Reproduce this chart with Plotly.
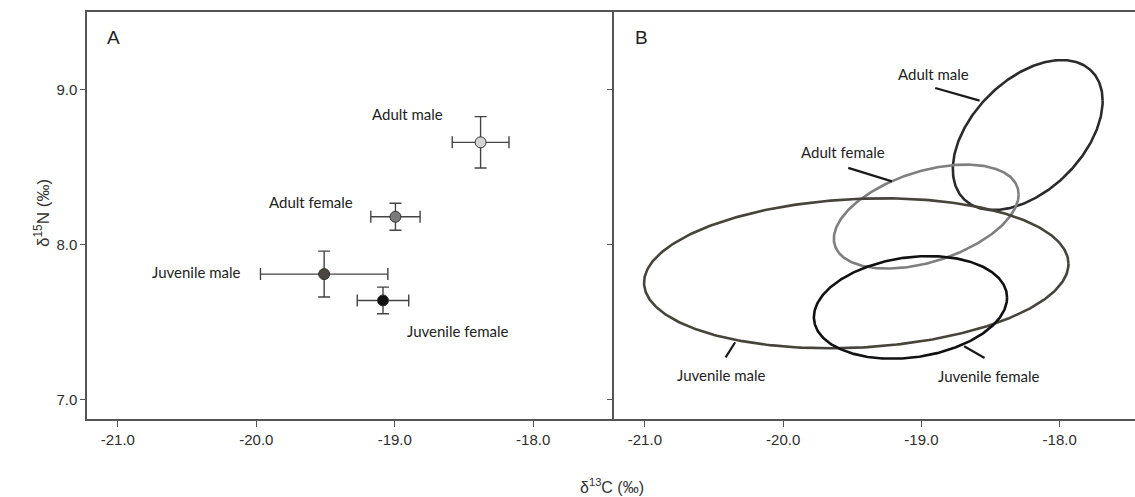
import numpy as np
import plotly.graph_objects as go

# ---------------- data ----------------
groups = ["Adult male", "Adult female", "Juvenile male", "Juvenile female"]
mean_c13 = [-18.38, -18.995, -19.51, -19.085]
mean_n15 = [8.66, 8.18, 7.81, 7.64]
sd_c13 = [0.205, 0.178, 0.46, 0.186]
sd_n15 = [0.166, 0.087, 0.148, 0.086]
marker_colors = ["#d4d4d4", "#7a7a7a", "#4a4740", "#111111"]

# standard ellipse parameters (panel B)
ell_cx = [-18.231, -18.965, -19.471, -19.079]
ell_cy = [8.707, 8.181, 7.815, 7.595]
ell_sx = [0.542, 0.6683, 1.535, 0.6987]
ell_sy = [0.484, 0.3355, 0.484, 0.331]
ell_rho = [0.455, 0.426, 0.1255, 0.19]
ell_colors = ["#2b2b2b", "#7f7f7f", "#47443c", "#111111"]

# label positions (data units)
lblA_x = [-18.909, -19.603, -20.432, -18.546]
lblA_y = [8.845, 8.275, 7.821, 7.441]
lblB_x = [-18.912, -19.565, -20.447, -18.517]
lblB_y = [9.103, 8.595, 7.157, 7.150]
leader_x0 = [-18.900, -19.529, -20.416, -18.691]
leader_y0 = [9.011, 8.495, 7.273, 7.344]
leader_x1 = [-18.579, -19.213, -20.347, -18.543]
leader_y1 = [8.929, 8.408, 7.370, 7.269]

xticks = [-21, -20, -19, -18]
xticklabels = ["-21.0", "-20.0", "-19.0", "-18.0"]
yticks = [7, 8, 9]
yticklabels = ["7.0", "8.0", "9.0"]

AX = "#555555"
TICKFONT = dict(family="Arial", size=15, color="#2e2e2e")
LBLFONT = dict(family="Lato", size=15, color="#222222")

fig = go.Figure()

# Panel A: means with SD error bars
for i, g in enumerate(groups):
    fig.add_trace(go.Scatter(
        x=[mean_c13[i]], y=[mean_n15[i]], mode="markers",
        marker=dict(size=11, color=marker_colors[i], line=dict(color="#333333", width=1)),
        error_x=dict(type="data", array=[sd_c13[i]], color="#444444", thickness=1.4, width=6),
        error_y=dict(type="data", array=[sd_n15[i]], color="#444444", thickness=1.4, width=6),
        xaxis="x", yaxis="y", showlegend=False, name=g))

# Panel B: ellipses
t = np.linspace(0, 2 * np.pi, 361)
for i, g in enumerate(groups):
    sx, sy, r = ell_sx[i], ell_sy[i], ell_rho[i]
    ex = ell_cx[i] + sx * np.cos(t)
    ey = ell_cy[i] + sy * (r * np.cos(t) + np.sqrt(1 - r * r) * np.sin(t))
    fig.add_trace(go.Scatter(
        x=ex, y=ey, mode="lines",
        line=dict(color=ell_colors[i], width=2.6),
        xaxis="x2", yaxis="y2", showlegend=False, name=g, hoverinfo="skip"))

annotations = []
shapes = []
for i, g in enumerate(groups):
    annotations.append(dict(x=lblA_x[i], y=lblA_y[i], xref="x", yref="y", text=g,
                            showarrow=False, font=LBLFONT))
    annotations.append(dict(x=lblB_x[i], y=lblB_y[i], xref="x2", yref="y2", text=g,
                            showarrow=False, font=LBLFONT))
    shapes.append(dict(type="line", xref="x2", yref="y2",
                       x0=leader_x0[i], y0=leader_y0[i], x1=leader_x1[i], y1=leader_y1[i],
                       line=dict(color="#1a1a1a", width=2.2)))

annotations.append(dict(x=-21.029, y=9.334, xref="x", yref="y", text="A", showarrow=False,
                        font=dict(family="Arial", size=19, color="#222")))
annotations.append(dict(x=-21.025, y=9.338, xref="x2", yref="y2", text="B", showarrow=False,
                        font=dict(family="Arial", size=19, color="#222")))
annotations.append(dict(x=0.501, y=-0.165, xref="paper", yref="paper", yanchor="middle",
                        text="δ<sup>13</sup>C (‰)", showarrow=False,
                        font=dict(family="Arial", size=16, color="#333")))
annotations.append(dict(x=-0.056, y=0.507, xref="paper", yref="paper", textangle=-90,
                        text="δ<sup>15</sup>N (‰)", showarrow=False,
                        font=dict(family="Arial", size=17, color="#333")))

xrange = [-21.223, -17.42]
xrange2 = [-21.227, -17.455]
yrange = [6.875, 9.501]
split = 526.5 / 1048

common_x = dict(showgrid=False, zeroline=False, showline=True, linecolor=AX, linewidth=1.5,
                ticks="outside", ticklen=6, tickcolor=AX, tickwidth=1,
                tickvals=xticks, ticktext=xticklabels, tickfont=TICKFONT, mirror=True)

fig.update_layout(
    width=1135, height=497,
    margin=dict(l=87, r=0, t=12, b=78),
    paper_bgcolor="white", plot_bgcolor="white",
    xaxis=dict(domain=[0, split], range=xrange, anchor="y", **common_x),
    xaxis2=dict(domain=[split, 1], range=xrange2, anchor="y2", **common_x),
    yaxis=dict(domain=[0, 1], range=yrange, anchor="x", showgrid=False, zeroline=False,
               showline=True, linecolor=AX, linewidth=1.5, mirror=False,
               ticks="outside", ticklen=5, tickcolor=AX, tickwidth=1,
               tickvals=yticks, ticktext=yticklabels, tickfont=TICKFONT),
    yaxis2=dict(domain=[0, 1], range=yrange, anchor="x2", showgrid=False, zeroline=False,
                showline=True, linecolor=AX, linewidth=1.5,
                ticks="outside", ticklen=5, tickcolor=AX, tickwidth=1,
                tickvals=yticks, showticklabels=False),
    annotations=annotations,
    shapes=shapes,
)

fig.write_html("out.html")
